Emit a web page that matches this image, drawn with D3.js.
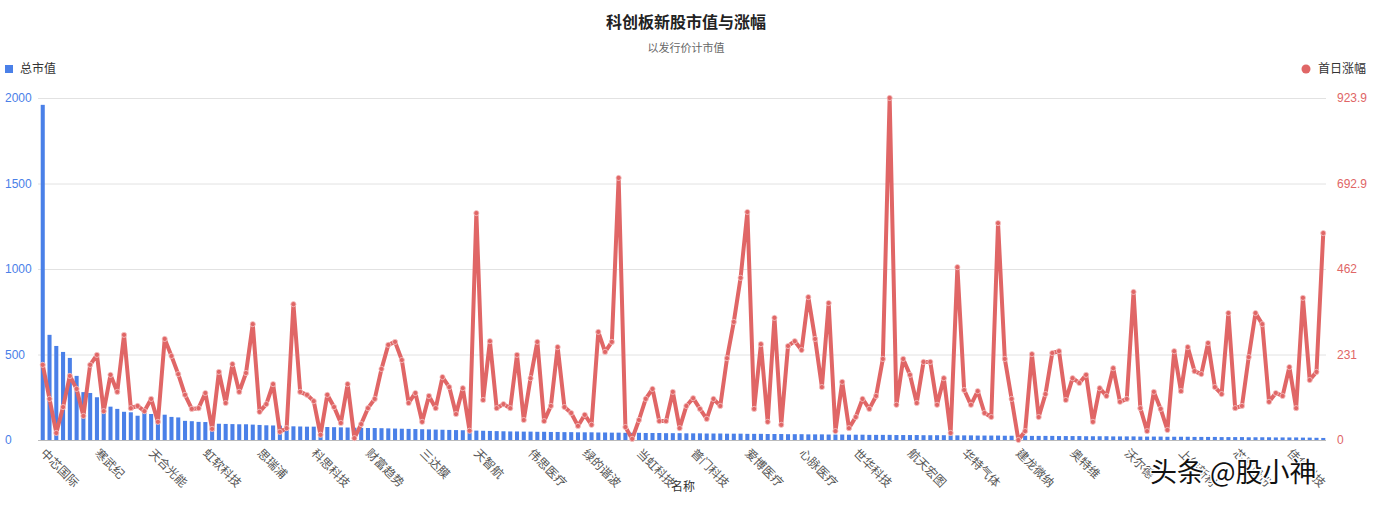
<!DOCTYPE html>
<html>
<head>
<meta charset="utf-8">
<script src="https://cdn.jsdelivr.net/npm/d3@7"></script>
<style>
  body { margin: 0; background: #fff; font-family: "Noto Sans CJK SC", "Noto Sans", sans-serif; }
</style>
</head>
<body>
<svg id="chart" width="1384" height="509"></svg>
<script>
// 总市值 (亿元)
const marketCap = [
  1960,615,550,515,480,375,280,275,250,205,
  195,182,165,162,142,160,152,150,148,135,
  132,112,110,106,105,104,95,94,93,92,
  92,90,88,86,85,84,82,80,79,78,
  78,77,76,75,74,73,72,71,70,70,
  69,68,67,66,65,64,63,62,61,60,
  59,58,57,56,55,54,53,52,51,50,
  50,49,49,48,48,47,47,46,46,45,
  45,45,44,44,43,43,42,42,42,41,
  41,41,40,40,40,39,39,39,38,38,
  38,37,37,37,36,36,36,35,35,35,
  34,34,34,33,33,33,32,32,32,31,
  31,31,30,30,30,30,29,29,29,29,
  28,28,28,28,27,27,27,27,26,26,
  26,26,25,25,25,25,24,24,24,24,
  23,23,23,23,22,22,22,22,21,21,
  21,21,20,20,20,20,19,19,19,19,
  18,18,18,18,17,17,17,17,16,16,
  16,16,15,15,15,15,14,14,13,12
];

// 首日涨幅 (%)
const firstDayGain = [
  203,111,19,89,173,138,65,203,230,78,
  176,130,284,86,92,78,111,49,273,227,
  178,122,84,86,127,30,184,100,205,130,
  181,313,76,97,151,22,32,367,130,122,
  105,14,122,89,46,151,5,43,86,111,
  192,257,265,216,100,127,49,119,86,170,
  143,70,140,25,613,108,267,86,97,86,
  230,54,167,265,51,92,251,89,73,38,
  68,41,292,238,265,708,35,3,54,111,
  138,51,51,130,32,92,113,84,57,111,
  92,221,319,438,616,84,259,49,330,41,
  254,267,243,386,273,143,370,24,157,32,
  62,111,84,119,219,924,95,219,176,100,
  211,211,95,167,19,467,135,95,132,73,
  62,586,219,111,0,24,232,62,124,235,
  240,108,167,154,176,49,140,119,194,103,
  111,400,86,24,130,84,27,240,132,251,
  186,178,262,143,124,343,86,92,224,343,
  313,103,127,119,197,86,384,162,184,559
];

// 每 8 家显示一个名称
const tickNames = [
  '中芯国际','寒武纪','天合光能','虹软科技','思瑞浦','科思科技','财富趋势','三达膜',
  '天智航','伟思医疗','绿的谐波','当虹科技','普门科技','爱博医疗','心脉医疗','世华科技',
  '航天宏图','华特气体','建龙微纳','奥特维','沃尔德','上纬新材','芯原股份','佳华科技'
];

const leftTicks = [0, 500, 1000, 1500, 2000];
const rightTicks = [0, 231, 462, 692.9, 923.9];

const blue = '#4a80e8';
const red = '#e06666';

const svg = d3.select('#chart');
const plotTop = 98, plotBottom = 440, plotLeft = 38, plotRight = 1328;

const index = d3.range(marketCap.length);
const x = d3.scaleBand().domain(index).range([plotLeft, plotRight]).padding(0.4);
const yL = d3.scaleLinear().domain([0, 2000]).range([plotBottom, plotTop]);
const yR = d3.scaleLinear().domain([0, 923.9]).range([plotBottom, plotTop]);

// title
svg.append('text').text('科创板新股市值与涨幅')
    .attr('x', 686).attr('y', 28).attr('text-anchor', 'middle')
    .style('font-size', 16).style('font-weight', 'bold').style('fill', '#222');
svg.append('text').text('以发行价计市值')
    .attr('x', 686).attr('y', 52).attr('text-anchor', 'middle')
    .style('font-size', 11).style('fill', '#666');

// legend
svg.append('rect').attr('x', 5).attr('y', 65).attr('width', 8).attr('height', 8).attr('fill', blue);
svg.append('text').text('总市值').attr('x', 20).attr('y', 73).style('font-size', 12).style('fill', '#333');
svg.append('circle').attr('cx', 1306).attr('cy', 69).attr('r', 4.5).attr('fill', red);
svg.append('text').text('首日涨幅').attr('x', 1318).attr('y', 73).style('font-size', 12).style('fill', '#333');

// grid
svg.append('g').selectAll('line').data(leftTicks).join('line')
    .attr('x1', plotLeft).attr('x2', 1326)
    .attr('y1', d => yL(d) + 0.5).attr('y2', d => yL(d) + 0.5)
    .attr('stroke', d => d === 0 ? '#bbb' : '#e2e2e2');

const yLeftAxis = svg.append('g')
    .call(d3.axisLeft(yL).tickValues(leftTicks).tickSize(0).tickFormat(d3.format('d')))
    .attr('transform', 'translate(5,0)');
yLeftAxis.select('.domain').remove();
yLeftAxis.selectAll('text').attr('text-anchor', 'start').attr('x', 0)
    .style('fill', blue).style('font-size', 12).style('font-family', 'inherit');

const yRightAxis = svg.append('g')
    .call(d3.axisRight(yR).tickValues(rightTicks).tickSize(0).tickFormat(d => String(d)))
    .attr('transform', 'translate(1337,0)');
yRightAxis.select('.domain').remove();
yRightAxis.selectAll('text').attr('x', 0)
    .style('fill', red).style('font-size', 12).style('font-family', 'inherit');

// bars
svg.append('g').selectAll('rect').data(marketCap).join('rect')
    .attr('x', (d, i) => x(i))
    .attr('width', x.bandwidth())
    .attr('y', d => yL(d))
    .attr('height', d => plotBottom - yL(d))
    .attr('fill', blue);

// line
const cx = i => x(i) + x.bandwidth() / 2;
svg.append('path').datum(firstDayGain)
    .attr('d', d3.line().x((d, i) => cx(i)).y(d => yR(d)))
    .attr('fill', 'none').attr('stroke', red).attr('stroke-width', 4)
    .attr('stroke-linejoin', 'round');
svg.append('g').selectAll('circle').data(firstDayGain).join('circle')
    .attr('cx', (d, i) => cx(i)).attr('cy', d => yR(d)).attr('r', 2.6)
    .attr('fill', red).attr('stroke', '#f6c9c9').attr('stroke-width', 0.8);

// x labels
svg.append('g').selectAll('text').data(tickNames).join('text')
    .text(d => d)
    .attr('transform', (d, i) => `translate(${cx(i * 8) - 3},${plotBottom + 14}) rotate(45)`)
    .style('font-size', 12).style('fill', '#555');

svg.append('text').text('名称').attr('x', 683).attr('y', 491).attr('text-anchor', 'middle')
    .style('font-size', 12).style('fill', '#333');

// watermark
svg.append('text').text('头条 @股小神').attr('x', 1150).attr('y', 482)
    .style('font-size', 27).style('fill', '#111')
    .style('stroke', '#fff').style('stroke-width', 3).style('paint-order', 'stroke');
</script>
</body>
</html>
